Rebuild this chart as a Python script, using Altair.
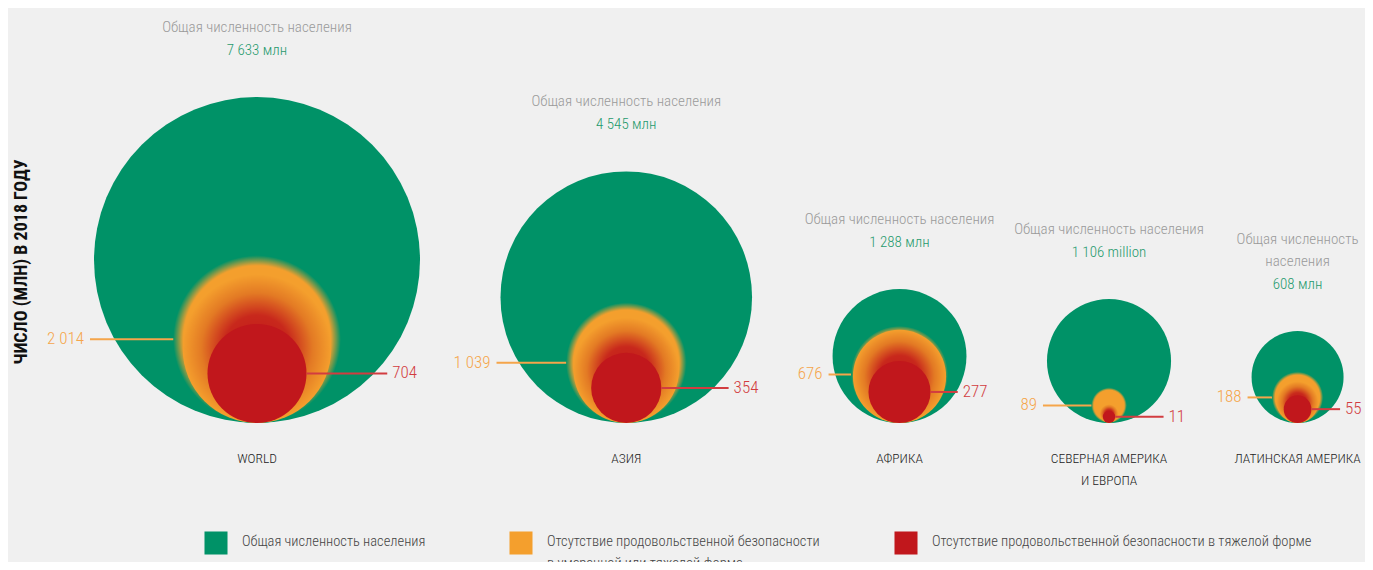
import math
import altair as alt
import pandas as pd

# ---------------- data ----------------
REGIONS = ["WORLD", "АЗИЯ", "АФРИКА", "СЕВЕРНАЯ АМЕРИКА\nИ ЕВРОПА", "ЛАТИНСКАЯ АМЕРИКА"]
TOTAL = [7633, 4545, 1288, 1106, 608]
MODERATE_OR_SEVERE = [2014, 1039, 676, 89, 188]
SEVERE = [704, 354, 277, 11, 55]
TOTAL_LABELS = ["7 633 млн", "4 545 млн", "1 288 млн", "1 106 million", "608 млн"]
MODSEV_LABELS = ["2 014", "1 039", "676", "89", "188"]
SEVERE_LABELS = ["704", "354", "277", "11", "55"]
TITLE_LABELS = ["Общая численность населения"] * 4 + ["Общая численность\nнаселения"]
LEGEND_LABELS = [
    "Общая численность населения",
    "Отсутствие продовольственной безопасности\nв умеренной или тяжелой форме",
    "Отсутствие продовольственной безопасности в тяжелой форме",
]
Y_TITLE = "ЧИСЛО (МЛН) В 2018 ГОДУ"

# ---------------- style / layout ----------------
FONT = "Roboto Condensed"
BG = "#f0f0f0"
GREEN = "#009267"
ORANGE = "#f49f2d"
RED = "#c1171c"
ORANGE_TXT = "#f5a54a"
RED_TXT = "#d23c40"
W, H = 1357, 554
BASE = 415
R_MAX = 163
LEFT = 86
GAP = 80.5
HALO = 1.5
LEGEND_X = [208, 513, 898]
LEGEND_Y = -120

vmax = max(TOTAL)
rt = [R_MAX * math.sqrt(v / vmax) for v in TOTAL]
ro = [R_MAX * math.sqrt(v / vmax) for v in MODERATE_OR_SEVERE]
rr = [R_MAX * math.sqrt(v / vmax) for v in SEVERE]
cx = []
acc = LEFT
for i, r in enumerate(rt):
    cx.append(acc + r)
    acc += 2 * r + GAP

df = pd.DataFrame({
    "region": REGIONS,
    "total": TOTAL,
    "modsev": MODERATE_OR_SEVERE,
    "severe": SEVERE,
    "halo": [v * HALO ** 2 for v in SEVERE],
    "total_label": TOTAL_LABELS,
    "modsev_label": MODSEV_LABELS,
    "severe_label": SEVERE_LABELS,
    "title": TITLE_LABELS,
    "cx": cx,
    "rt": rt,
    "ro": ro,
    "rr": rr,
})
nlines = [t.count("\n") for t in TITLE_LABELS]
df["top"] = 2 * df["rt"]
df["halo_y"] = HALO * df["rr"]
df["title_y"] = df["top"] + 62 + pd.Series(nlines) * 22
df["value_y"] = df["top"] + 47
df["cat_y"] = -29
df["o_x1"] = df["cx"] - df["rt"] - 4
df["o_x2"] = df["cx"] - df["ro"]
df["o_lx"] = df["o_x1"] - 6
df["r_x1"] = df["cx"] + df["rr"]
df["r_x2"] = df["cx"] + 0.75 * df["rt"] + 8
df["r_lx"] = df["r_x2"] + 5

legend_df = pd.DataFrame({
    "label": LEGEND_LABELS,
    "color": [GREEN, ORANGE, RED],
    "x": LEGEND_X,
    "y": [LEGEND_Y] * 3,
})
legend_df["tx"] = legend_df["x"] + 26

ytitle_df = pd.DataFrame({"label": [Y_TITLE], "x": [14], "y": [161]})

xs = alt.Scale(domain=[0, W], nice=False, zero=False)
ys = alt.Scale(domain=[BASE - H, BASE], nice=False, zero=False)
ss = alt.Scale(domain=[0, vmax], range=[0, (2 * R_MAX) ** 2], zero=True, nice=False)


def X(f):
    return alt.X(f, type="quantitative", scale=xs, axis=None)


def Y(f):
    return alt.Y(f, type="quantitative", scale=ys, axis=None)


def S(f):
    return alt.Size(f, type="quantitative", scale=ss, legend=None)


base = alt.Chart(df)

green = base.mark_circle(fill=GREEN, opacity=1, strokeWidth=0).encode(
    x=X("cx"), y=Y("rt"), size=S("total"))

orange_grad = alt.RadialGradient(
    gradient="radial",
    stops=[alt.GradientStop(color=ORANGE, offset=0),
           alt.GradientStop(color=ORANGE, offset=0.88),
           alt.GradientStop(color=GREEN, offset=1)],
    x1=0.5, y1=0.5, r1=0, x2=0.5, y2=0.5, r2=0.5)
orange = base.mark_circle(fill=orange_grad, opacity=1, strokeWidth=0).encode(
    x=X("cx"), y=Y("ro"), size=S("modsev"))

halo_grad = alt.RadialGradient(
    gradient="radial",
    stops=[alt.GradientStop(color=RED, offset=0),
           alt.GradientStop(color="#c8281c", offset=0.45),
           alt.GradientStop(color="#e37a24", offset=0.75),
           alt.GradientStop(color=ORANGE, offset=1)],
    x1=0.5, y1=0.5, r1=0, x2=0.5, y2=0.5, r2=0.5)
halo = base.mark_circle(fill=halo_grad, opacity=1, strokeWidth=0).encode(
    x=X("cx"), y=Y("halo_y"), size=S("halo"))

red = base.mark_circle(fill=RED, opacity=1, strokeWidth=0).encode(
    x=X("cx"), y=Y("rr"), size=S("severe"))

o_rule = base.mark_rule(color=ORANGE_TXT, strokeWidth=2).encode(
    x=X("o_x1"), x2="o_x2", y=Y("ro"))
r_rule = base.mark_rule(color=RED_TXT, strokeWidth=2).encode(
    x=X("r_x1"), x2="r_x2", y=Y("rr"))

o_lab = base.mark_text(font=FONT, fontSize=17, fontWeight=300, color=ORANGE_TXT,
                       align="right", baseline="middle").encode(
    x=X("o_lx"), y=Y("ro"), text="modsev_label")
r_lab = base.mark_text(font=FONT, fontSize=17, fontWeight=300, color=RED_TXT,
                       align="left", baseline="middle").encode(
    x=X("r_lx"), y=Y("rr"), text="severe_label")

title = base.mark_text(font=FONT, fontSize=15, fontWeight=300, color="#9a9a9a",
                       align="center", baseline="bottom", lineBreak="\n",
                       lineHeight=22).encode(
    x=X("cx"), y=Y("title_y"), text="title")
value = base.mark_text(font=FONT, fontSize=15, fontWeight=300, color="#1f9a6d",
                       align="center", baseline="middle").encode(
    x=X("cx"), y=Y("value_y"), text="total_label")
cat = base.mark_text(font=FONT, fontSize=13.5, fontWeight=300, color="#222222",
                     align="center", baseline="top", lineBreak="\n",
                     lineHeight=22).encode(
    x=X("cx"), y=Y("cat_y"), text="region")

lg = alt.Chart(legend_df)
lg_sq = lg.mark_point(shape="square", filled=True, opacity=1, size=530).encode(
    x=X("x"), y=Y("y"), color=alt.Color("color:N", scale=None))
lg_tx = lg.mark_text(font=FONT, fontSize=14.5, fontWeight=300, color="#444444",
                     align="left", baseline="top", lineBreak="\n", lineHeight=22,
                     dy=-8).encode(
    x=X("tx"), y=Y("y"), text="label")

yt = alt.Chart(ytitle_df).mark_text(font=FONT, fontSize=18, fontWeight="bold",
                                    color="#111111", angle=270, align="center",
                                    baseline="middle").encode(
    x=X("x"), y=Y("y"), text="label")

chart = alt.layer(green, orange, halo, red, o_rule, r_rule, o_lab, r_lab,
                  title, value, cat, lg_sq, lg_tx, yt).properties(
    width=W, height=H, background=BG, padding=0, autosize="none"
).configure_view(strokeWidth=0)

chart.save("out.html", embed_options={"renderer": "svg", "actions": False})
